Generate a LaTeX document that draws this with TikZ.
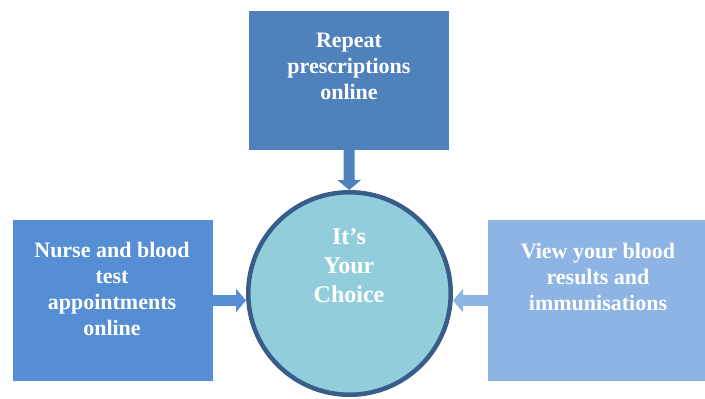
\documentclass[tikz,border=0pt]{standalone}
\usepackage{fontspec}
\setmainfont{Liberation Serif}
\usepackage{xcolor}
\usepackage{tikz}
\usetikzlibrary{shapes,arrows.meta,positioning,calc}

\definecolor{topblue}{HTML}{4F81BD}
\definecolor{leftblue}{HTML}{558ED5}
\definecolor{rightblue}{HTML}{8EB4E3}
\definecolor{circfill}{HTML}{92CDDC}
\definecolor{circline}{HTML}{385D8A}

\tikzset{
    box/.style={rectangle,inner sep=0pt,minimum width=200pt},
    txt/.style={inner sep=0pt,align=center,text=white,font=\fontsize{22}{26}\selectfont\bfseries},
    blockarrow/.style={line width=11pt,-{Triangle[length=10pt,width=23pt]}}
}

\begin{document}
\begin{tikzpicture}[x=1pt,y=-1pt]
    \useasboundingbox (0,0) rectangle (705,399);

    \node[box,fill=topblue,minimum height=139pt] (top) at (349,80.5) {};
    \node[box,fill=leftblue,minimum height=161pt] (left) at (113,300.5) {};
    \node[box,fill=rightblue,minimum width=217pt,minimum height=161pt] (right) at (596.5,300.5) {};
    \node[circle,fill=circfill,draw=circline,line width=4.5pt,inner sep=0pt,minimum size=202.5pt] (choice) at (349.5,293.5) {};

    \node[txt,anchor=north] (toptxt) at (349,32.5) {Repeat\\prescriptions\\online};
    \node[txt,anchor=north] (lefttxt) at (112,242) {Nurse and blood\\test\\appointments\\online};
    \node[txt,anchor=north] (righttxt) at (598,243) {View your blood\\results and\\immunisations};
    \node[txt,anchor=north,font=\fontsize{24}{29}\selectfont\bfseries] (choicetxt) at (349,228.5) {It’s\\Your\\Choice};

    \draw[blockarrow,topblue] (top) -- (choice);
    \draw[blockarrow,leftblue] (left.east) -- (left.east -| choice.west);
    \draw[blockarrow,rightblue] (right.west) -- (right.west -| choice.east);
\end{tikzpicture}
\end{document}
